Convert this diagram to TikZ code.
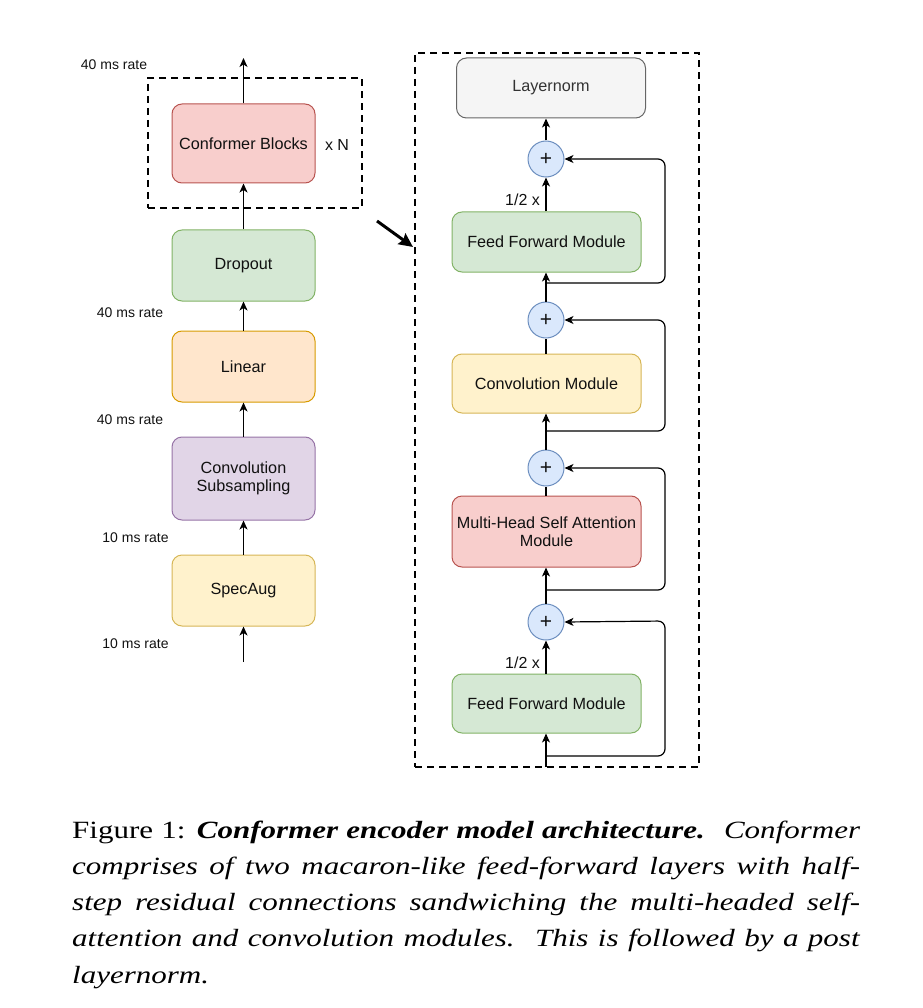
\documentclass[tikz,border=0pt]{standalone}
\usepackage{fontspec}
\setmainfont{Liberation Serif}
\newfontfamily\diagfont{Liberation Sans}
\usepackage{graphicx}
\usetikzlibrary{arrows.meta}
\definecolor{redfill}{HTML}{F8CECC}\definecolor{redline}{HTML}{B85450}
\definecolor{greenfill}{HTML}{D5E8D4}\definecolor{greenline}{HTML}{82B366}
\definecolor{orangefill}{HTML}{FFE6CC}\definecolor{orangeline}{HTML}{D79B00}
\definecolor{purplefill}{HTML}{E1D5E7}\definecolor{purpleline}{HTML}{9673A6}
\definecolor{yellowfill}{HTML}{FFF2CC}\definecolor{yellowline}{HTML}{D6B656}
\definecolor{grayfill}{HTML}{F5F5F5}\definecolor{grayline}{HTML}{666666}
\definecolor{bluefill}{HTML}{DAE8FC}\definecolor{blueline}{HTML}{6C8EBF}
\definecolor{txt}{HTML}{111111}
\definecolor{graytxt}{HTML}{333333}
\begin{document}
\begin{tikzpicture}[x=1pt,y=-1pt,
  blk/.style={draw, rounded corners=10pt, line width=1pt, align=center, inner sep=0pt,
    text=txt, font=\diagfont\fontsize{16.2}{18.5}\selectfont},
  lbox/.style={blk, minimum width=143pt},
  rbox/.style={blk, minimum width=189pt},
  redb/.style={fill=redfill, draw=redline},
  greenb/.style={fill=greenfill, draw=greenline},
  orangeb/.style={fill=orangefill, draw=orangeline},
  purpleb/.style={fill=purplefill, draw=purpleline},
  yellowb/.style={fill=yellowfill, draw=yellowline},
  grayb/.style={fill=grayfill, draw=grayline, text=graytxt},
  sumnode/.style={circle, draw=blueline, fill=bluefill, line width=1pt, minimum size=36pt,
    inner sep=0pt, text=txt, font=\diagfont\fontsize{21}{22}\selectfont},
  lab/.style={inner sep=0pt, text=txt, font=\diagfont\fontsize{14}{16}\selectfont},
  half/.style={inner sep=0pt, text=txt, font=\diagfont\fontsize{16}{18}\selectfont},
  arr/.style={-{Stealth[length=9pt,width=8pt,inset=2.5pt]}, line width=1.2pt},
  plain/.style={line width=1.2pt},
  res/.style={arr, rounded corners=7pt},
  dbox/.style={draw, line width=2pt, dash pattern=on 7pt off 5pt, inner sep=0pt}
]
\useasboundingbox (0,0) rectangle (922,1008);

% ---------- left column ----------
\node[dbox, minimum width=214pt, minimum height=130pt] (lframe) at (255,143) {};
\node[lbox, redb, minimum height=79pt] (conf) at (243.5,143.5) {Conformer Blocks};
\node[half] (xn) at (337,145) {x N};
\node[lbox, greenb, minimum height=71pt] (drop) at (243.5,265.5) {Dropout};
\node[lbox, orangeb, minimum height=71pt] (lin) at (243.5,366.5) {Linear};
\node[lbox, purpleb, minimum height=83pt] (csub) at (243.5,478.5) {Convolution\\Subsampling};
\node[lbox, yellowb, minimum height=71pt] (spec) at (243.5,590.5) {SpecAug};

\coordinate (lin0) at (243.5,662);
\coordinate (lout) at (243.5,58);
\draw[arr] (lin0) -- (spec.south);
\draw[arr] (spec.north) -- (csub.south);
\draw[arr] (csub.north) -- (lin.south);
\draw[arr] (lin.north) -- (drop.south);
\draw[arr] (drop.north) -- (conf.south);
\draw[arr] (conf.north) -- (lout);

\node[lab] (r1) at (114,65) {40 ms rate};
\node[lab] (r2) at (130,313) {40 ms rate};
\node[lab] (r3) at (130,420) {40 ms rate};
\node[lab] (r4) at (135.5,538) {10 ms rate};
\node[lab] (r5) at (135.5,644) {10 ms rate};

% ---------- pointer arrow ----------
\coordinate (pa) at (377,221);
\coordinate (pb) at (413,247);
\draw[line width=3pt, -{Stealth[length=14pt,width=13pt,inset=2pt]}] (pa) -- (pb);

% ---------- right column ----------
\node[dbox, minimum width=284pt, minimum height=714pt] (rframe) at (557,410) {};
\node[rbox, grayb, minimum height=60pt] (ln) at (551,88) {Layernorm};
\node[sumnode] (c1) at (546,159) {+};
\node[rbox, greenb, minimum height=60pt] (ff2) at (546.5,242) {Feed Forward Module};
\node[sumnode] (c2) at (546,320) {+};
\node[rbox, yellowb, minimum height=59pt] (cm) at (546.5,383.5) {Convolution Module};
\node[sumnode] (c3) at (546,468) {+};
\node[rbox, redb, minimum height=71pt] (mh) at (546.5,531.5) {Multi-Head Self Attention\\Module};
\node[sumnode] (c4) at (546,622) {+};
\node[rbox, greenb, minimum height=59pt] (ff1) at (546.5,703.5) {Feed Forward Module};

\node[half] (h2) at (522.5,200) {1/2 x};
\node[half] (h1) at (522.5,663) {1/2 x};

\coordinate (rin) at (546,767);
\coordinate (b1) at (546,756);
\coordinate (b2) at (546,590);
\coordinate (b3) at (546,431);
\coordinate (b4) at (546,283);

\draw[arr] (rin) -- (rin |- ff1.south);
\draw[arr] (rin |- ff1.north) -- (c4.south);
\draw[arr] (c4.north) -- (c4.north |- mh.south);
\draw[plain] (c3.south |- mh.north) -- (c3.south);
\draw[arr] (c3.north) -- (c3.north |- cm.south);
\draw[plain] (c2.south |- cm.north) -- (c2.south);
\draw[arr] (c2.north) -- (c2.north |- ff2.south);
\draw[arr] (c1.south |- ff2.north) -- (c1.south);
\draw[arr] (c1.north) -- (c1.north |- ln.south);

\draw[res] (b1) -- (665,756) -- (665,621) -- (c4.east);
\draw[res] (b2) -- (665,590) -- (665,468) -- (c3.east);
\draw[res] (b3) -- (665,431) -- (665,320) -- (c2.east);
\draw[res] (b4) -- (665,283) -- (665,159) -- (c1.east);

% ---------- caption ----------
\node[anchor=base west, inner sep=0pt] (cap) at (72,838) {\scalebox{1}[0.8]{\parbox[t]{788pt}{\fontsize{31}{45.4}\selectfont\sloppy\noindent
Figure 1: \textbf{\textit{Conformer encoder model architecture.}}\hspace{0.35em}\ \textit{Conformer}\linebreak
\textit{comprises of two macaron-like feed-forward layers with half-}\linebreak
\textit{step residual connections sandwiching the multi-headed self-}\linebreak
\textit{attention and convolution modules.\hspace{0.35em}\ This is followed by a post}\linebreak
\textit{layernorm.}}}};
\end{tikzpicture}
\end{document}
